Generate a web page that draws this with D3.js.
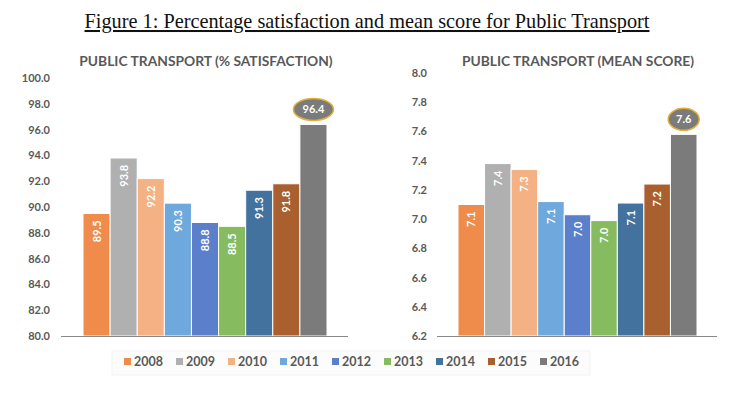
<!DOCTYPE html>
<html>
<head>
<meta charset="utf-8">
<script src="https://cdn.jsdelivr.net/npm/d3@7"></script>
<style>
  body { margin: 0; background: #fff; }
  svg { display: block; }
</style>
</head>
<body>
<svg id="chart" width="744" height="401"></svg>
<script>
var years = ["2008", "2009", "2010", "2011", "2012", "2013", "2014", "2015", "2016"],
	colors = ["#F08C4B", "#B0B0B0", "#F4B183", "#6FA8DC", "#5B7FCB", "#86BB5F", "#44729E", "#AA5F2E", "#7B7B7B"],
	satisfaction = [89.5, 93.8, 92.2, 90.3, 88.8, 88.5, 91.3, 91.8, 96.4],
	meanScore = [7.1, 7.38, 7.34, 7.12, 7.03, 6.99, 7.11, 7.24, 7.58],
	meanLabels = ["7.1", "7.4", "7.3", "7.1", "7.0", "7.0", "7.1", "7.2", "7.6"],
	satTicks = [80, 82, 84, 86, 88, 90, 92, 94, 96, 98, 100],
	meanTicks = [6.2, 6.4, 6.6, 6.8, 7.0, 7.2, 7.4, 7.6, 7.8, 8.0];

var svg = d3.select("#chart"),
	font = "Lato, 'Open Sans', sans-serif",
	grey = "#595959";

// main figure title
svg.append("text")
	.attr("x", 367)
	.attr("y", 28)
	.attr("text-anchor", "middle")
	.attr("font-family", "'Liberation Serif', 'Times New Roman', serif")
	.attr("font-size", 20.3)
	.attr("fill", "#111")
	.attr("text-decoration", "underline")
	.text("Figure 1: Percentage satisfaction and mean score for Public Transport");

function drawPanel(opt) {
	var g = svg.append("g");
	var y = d3.scaleLinear().domain(opt.domain).range([336, opt.top]);
	var x = d3.scaleBand().domain(years).range([opt.barLeft, opt.barRight]).padding(0);

	g.append("text")
		.attr("x", opt.titleX)
		.attr("y", 66)
		.attr("text-anchor", "middle")
		.attr("font-family", font)
		.attr("font-weight", "bold")
		.attr("font-size", 13.8)
		.attr("fill", grey)
		.text(opt.title);

	var axis = d3.axisLeft(y).tickValues(opt.ticks).tickSize(0).tickPadding(0)
		.tickFormat(d3.format(".1f"));
	var ag = g.append("g")
		.attr("transform", "translate(" + opt.labelRight + ",0)")
		.call(axis);
	ag.select(".domain").remove();
	ag.selectAll("text")
		.attr("font-family", font)
		.attr("font-weight", "bold")
		.attr("font-size", 11)
		.attr("fill", grey);

	g.selectAll("rect.bar")
		.data(opt.values)
		.enter()
		.append("rect")
		.attr("class", "bar")
		.attr("x", function(d, i) { return x(years[i]); })
		.attr("y", function(d) { return y(d); })
		.attr("width", x.bandwidth())
		.attr("height", function(d) { return 336 - y(d); })
		.attr("fill", function(d, i) { return colors[i]; })
		.attr("stroke", "#fff")
		.attr("stroke-width", 1);

	g.append("line")
		.attr("x1", opt.axisLeft).attr("x2", opt.axisRight)
		.attr("y1", 336.5).attr("y2", 336.5)
		.attr("stroke", "#888")
		.attr("stroke-width", 1);

	var n = opt.values.length;
	g.selectAll("text.val")
		.data(opt.values.slice(0, n - 1))
		.enter()
		.append("text")
		.attr("class", "val")
		.attr("transform", function(d, i) {
			return "translate(" + (x(years[i]) + x.bandwidth() / 2 + 4) + "," + (y(d) + 7) + ") rotate(-90)";
		})
		.attr("text-anchor", "end")
		.attr("font-family", font)
		.attr("font-weight", "bold")
		.attr("font-size", 11)
		.attr("fill", "#fff")
		.text(function(d, i) { return opt.labels[i]; });

	var last = opt.values[n - 1],
		cx = x(years[n - 1]) + x.bandwidth() / 2,
		cy = y(last) - 15;
	g.append("ellipse")
		.attr("cx", cx).attr("cy", cy)
		.attr("rx", opt.rx).attr("ry", 11)
		.attr("fill", "#7B7B7B")
		.attr("stroke", "#E2B13C")
		.attr("stroke-width", 1.5);
	g.append("text")
		.attr("x", cx).attr("y", cy + 4)
		.attr("text-anchor", "middle")
		.attr("font-family", font)
		.attr("font-weight", "bold")
		.attr("font-size", 11)
		.attr("fill", "#fff")
		.text(opt.labels[n - 1]);
}

drawPanel({
	title: "PUBLIC TRANSPORT (% SATISFACTION)",
	titleX: 206,
	domain: [80, 100],
	top: 78,
	ticks: satTicks,
	values: satisfaction,
	labels: satisfaction.map(d3.format(".1f")),
	labelRight: 50,
	axisLeft: 61,
	axisRight: 348,
	barLeft: 83,
	barRight: 327,
	rx: 20
});

drawPanel({
	title: "PUBLIC TRANSPORT (MEAN SCORE)",
	titleX: 578,
	domain: [6.2, 8.0],
	top: 73,
	ticks: meanTicks,
	values: meanScore,
	labels: meanLabels,
	labelRight: 427,
	axisLeft: 437,
	axisRight: 717,
	barLeft: 458,
	barRight: 697,
	rx: 15.5
});

// legend
var legend = svg.append("g");
legend.append("rect")
	.attr("x", 112).attr("y", 351)
	.attr("width", 478).attr("height", 24)
	.attr("fill", "#fcfcfc")
	.attr("stroke", "#f3f3f3");
var lx = d3.scalePoint().domain(years).range([124, 540]);
var item = legend.selectAll("g.item")
	.data(years)
	.enter()
	.append("g")
	.attr("class", "item")
	.attr("transform", function(d) { return "translate(" + lx(d) + ",361)"; });
item.append("rect")
	.attr("x", 0).attr("y", -3)
	.attr("width", 7).attr("height", 7)
	.attr("fill", function(d, i) { return colors[i]; });
item.append("text")
	.attr("x", 10).attr("y", 4.5)
	.attr("font-family", font)
	.attr("font-weight", "bold")
	.attr("font-size", 12.5)
	.attr("fill", grey)
	.text(function(d) { return d; });
</script>
</body>
</html>
